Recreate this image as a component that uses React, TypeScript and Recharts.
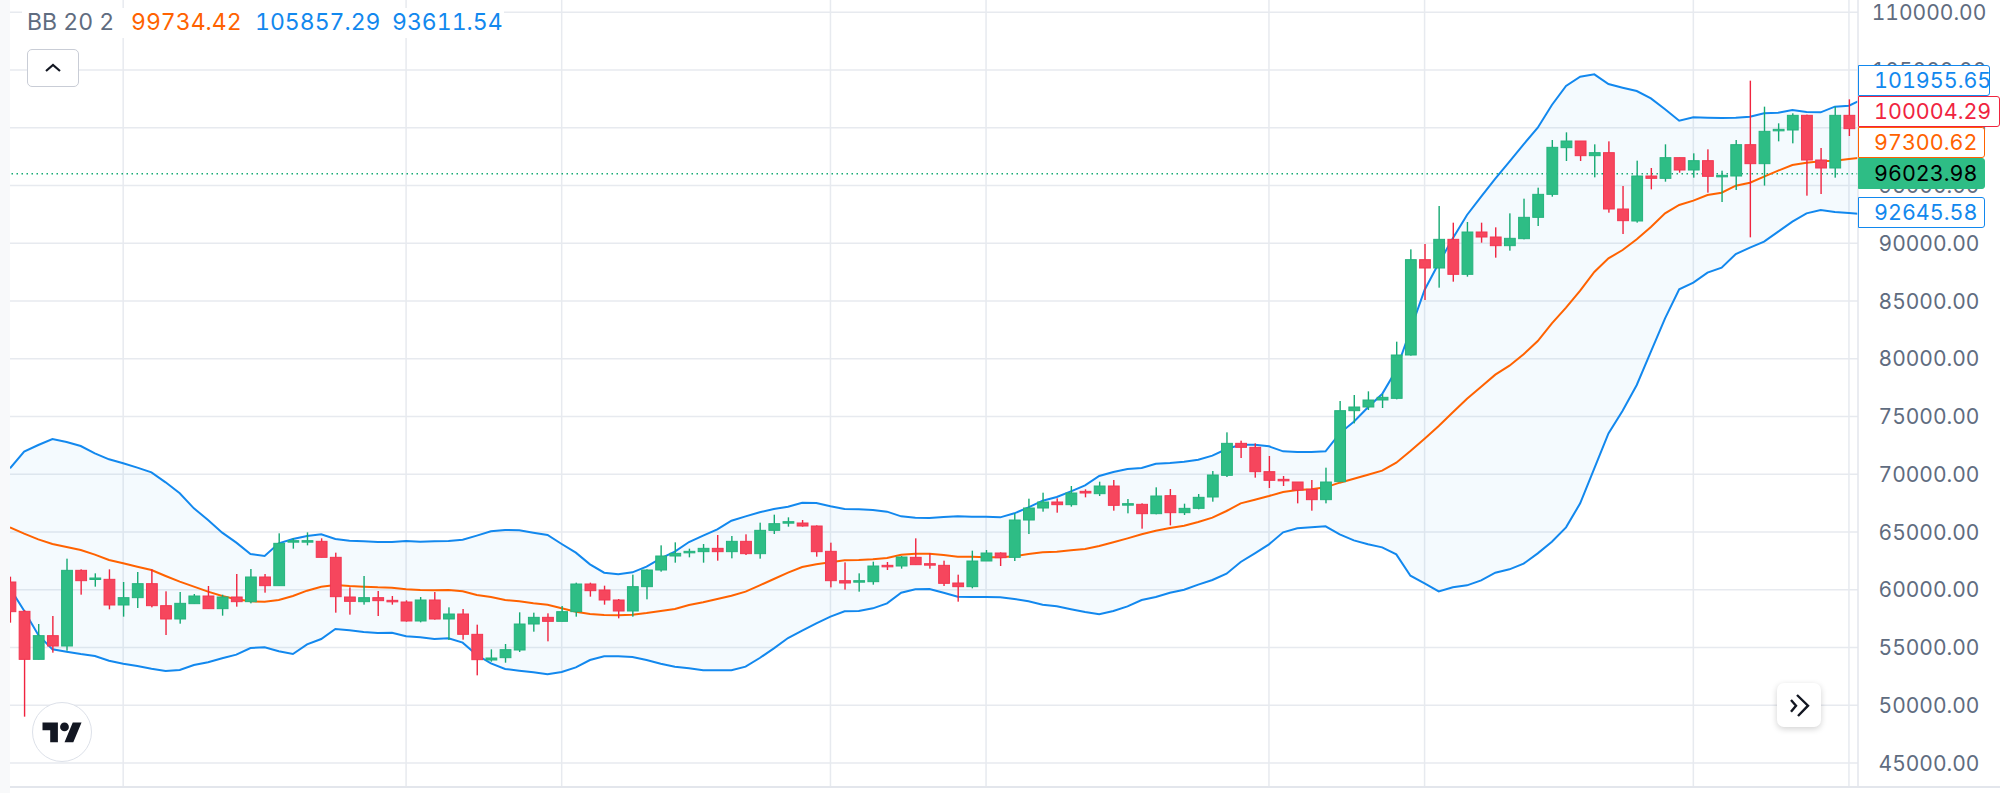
import React from "react";
import { ComposedChart, Area, Bar, Line, XAxis, YAxis, CartesianGrid, ReferenceLine } from "recharts";

const opens = [
  60676, 58136, 53980, 56030, 55135, 61686, 60907, 60907, 58685, 59320, 60532, 58627, 57473, 58800, 59464, 58367, 59377, 58973, 61109, 60359,
  64197, 64197, 64197, 62812, 59377, 58973, 59320, 59089, 58944, 57300, 59118, 57473, 57905, 56145, 53922, 54124, 54788, 57039, 57616, 57270,
  58107, 60503, 59983, 59117, 58165, 60272, 61715, 62927, 63215, 63302, 63590, 63302, 64197, 63129, 65149, 65813, 65784, 65524, 63331, 60791,
  60704, 60704, 62119, 62061, 62811, 62263, 62119, 60589, 60272, 62494, 63186, 62811, 66043, 67082, 67602, 67371, 68525, 68323, 68987, 67400,
  67400, 66592, 68150, 66678, 67053, 68035, 69911, 72681, 72335, 70228, 69564, 69333, 68698, 67804, 69362, 75509, 75827, 76433, 76577, 80329,
  88583, 87861, 90343, 87313, 90978, 90545, 89795, 90401, 92248, 94239, 98280, 98857, 97587, 97847, 92970, 91931, 95827, 95625, 97414, 96346,
  97154, 95798, 95827, 98540, 96895, 99810, 99810, 101079, 97212, 96520, 101079,
];
const highs = [
  61138, 58252, 57040, 57732, 62696, 61773, 61426, 61773, 60676, 61542, 61773, 59868, 59810, 59637, 60330, 59579, 61369, 61801, 61369, 64890,
  64457, 64976, 64457, 63216, 60214, 61196, 59897, 59464, 59089, 59377, 59810, 58483, 58338, 56982, 54846, 55308, 58050, 58020, 57963, 58598,
  60618, 60618, 60358, 59204, 61311, 61772, 63850, 64110, 63562, 63966, 64745, 64658, 64803, 65813, 66505, 66275, 66044, 65582, 64081, 62378,
  61426, 62436, 62407, 62927, 64456, 63158, 62523, 61311, 63388, 63446, 63244, 66621, 67890, 68410, 67919, 68987, 68699, 69362, 69507, 67861,
  67486, 68872, 68727, 67457, 68294, 70286, 73634, 72912, 72681, 71585, 69853, 69333, 69507, 70574, 76346, 76866, 77183, 76952, 81483, 89477,
  89939, 93229, 91786, 91844, 91786, 91382, 92594, 93864, 94816, 98944, 99607, 98857, 98568, 98828, 94961, 97155, 96520, 98569, 97414, 97789,
  98136, 96289, 98944, 104081, 101830, 100387, 101253, 101137, 98251, 101830, 102465,
];
const lows = [
  57155, 49017, 53980, 54558, 54731, 59579, 60272, 58310, 57675, 58425, 58483, 56087, 57068, 58800, 58367, 57761, 58540, 58829, 59753, 60359,
  63562, 63851, 62812, 58021, 57848, 58714, 57732, 58714, 57242, 57184, 57415, 55654, 55683, 52595, 53778, 53691, 54615, 56375, 55539, 57270,
  57674, 59406, 58713, 57530, 57674, 59175, 61570, 62350, 62811, 62350, 62523, 62725, 63013, 62696, 64831, 65466, 65466, 62869, 60214, 60012,
  59839, 60445, 61715, 61830, 62176, 61830, 60329, 58973, 60127, 62494, 62061, 62494, 64831, 66765, 66678, 67198, 68006, 68121, 66851, 66621,
  65293, 66534, 65582, 66476, 66967, 67631, 69766, 71411, 69709, 68814, 68987, 67486, 66851, 67486, 69362, 74412, 75567, 75740, 76490, 80271,
  85091, 86158, 86678, 87111, 90055, 88756, 89362, 90343, 91498, 94037, 97126, 97126, 95711, 92652, 90805, 91787, 94672, 95336, 96116, 95683,
  94384, 93576, 94615, 90517, 95000, 98828, 98655, 94124, 94268, 95683, 99290,
];
const closes = [
  58108, 53980, 56030, 55135, 61686, 60791, 61022, 58685, 59320, 60532, 58627, 57473, 58829, 59464, 58367, 59377, 58973, 61109, 60359, 64024,
  64255, 64255, 62812, 59406, 59002, 59320, 59060, 58973, 57300, 59118, 57473, 57905, 56145, 53952, 54096, 54817, 57039, 57616, 57270, 58107,
  60503, 59925, 59117, 58165, 60272, 61715, 62927, 63158, 63331, 63590, 63302, 64197, 63129, 65149, 65726, 65899, 65524, 63302, 60791, 60589,
  60791, 62061, 62003, 62840, 62176, 62176, 60560, 60272, 62494, 63186, 62782, 66043, 67082, 67602, 67371, 68381, 68381, 68987, 67313, 67458,
  66592, 68121, 66678, 67053, 68006, 69940, 72681, 72335, 70228, 69478, 69449, 68641, 67804, 69333, 75509, 75827, 76433, 76664, 80329, 88583,
  87861, 90343, 87313, 90978, 90545, 89795, 90430, 92248, 94239, 98309, 98857, 97587, 97847, 92970, 91960, 95827, 95625, 97414, 96346, 97154,
  95798, 95885, 98540, 96895, 99694, 99867, 101079, 97212, 96520, 101079, 99925,
];

const upperBand = [
  70517, 71960, 72537, 73057, 72797, 72451, 71816, 71297, 70950, 70575, 70171, 69305, 68353, 67054, 66044, 64947, 64081, 63100, 62927, 64024,
  64399, 64659, 64803, 64399, 64255, 64197, 64139, 64139, 64226, 64168, 64197, 64226, 64341, 64688, 65062, 65178, 65149, 64947, 64745, 63966,
  63215, 62205, 61484, 61340, 61513, 62003, 62725, 63302, 64139, 64687, 65236, 65986, 66361, 66708, 66996, 67198, 67544, 67515, 67227, 66996,
  66967, 66909, 66765, 66361, 66246, 66217, 66303, 66361, 66332, 66332, 66274, 66621, 67140, 67717, 68035, 68525, 69045, 69853, 70199, 70459,
  70546, 70921, 70978, 71094, 71267, 71613, 72191, 72566, 72566, 72421, 71988, 71931, 71931, 71988, 73547, 74556, 75798, 76952, 79030, 82493,
  85956, 88265, 90430, 92450, 94037, 95596, 97068, 98569, 100011, 101974, 103619, 104427, 104629, 103792, 103475, 103186, 102551, 101599, 100618, 100906,
  100877, 100849, 100877, 100964, 101253, 101310, 101541, 101368, 101339, 101830, 101916, 102493,
];
const midBand = [
  65409, 64861, 64370, 63966, 63706, 63447, 63043, 62581, 62292, 62004, 61715, 61196, 60705, 60272, 59839, 59464, 59175, 59002, 58973, 59118,
  59464, 59926, 60272, 60416, 60330, 60272, 60214, 60185, 60041, 59983, 59954, 59983, 59868, 59550, 59377, 59117, 59002, 58829, 58713, 58396,
  58107, 57905, 57819, 57790, 57847, 57992, 58165, 58338, 58684, 58915, 59204, 59493, 59839, 60387, 60936, 61484, 61975, 62205, 62378, 62551,
  62580, 62638, 62754, 63042, 63129, 63129, 63013, 62869, 62869, 62811, 62811, 62898, 63100, 63244, 63302, 63417, 63533, 63792, 64110, 64456,
  64803, 65120, 65351, 65553, 65870, 66245, 66823, 67486, 67804, 68121, 68468, 68641, 68698, 68872, 69276, 69622, 69968, 70315, 71007, 72017,
  73085, 74182, 75365, 76548, 77587, 78626, 79405, 80387, 81541, 83070, 84427, 85899, 87515, 88698, 89420, 90343, 91411, 92594, 93316, 93691,
  94181, 94384, 94989, 95249, 95769, 96289, 96780, 96981, 97097, 97154, 97299, 97443,
];
const lowerBand = [
  60128, 58194, 56087, 54846, 54644, 54442, 54269, 53865, 53605, 53403, 53172, 52970, 53057, 53490, 53721, 54067, 54385, 54962, 55020, 54673,
  54442, 55279, 55741, 56607, 56491, 56347, 56261, 56289, 55972, 55885, 55741, 55799, 55424, 54356, 53634, 53143, 53000, 52855, 52682, 52883,
  53288, 53923, 54240, 54240, 54182, 53923, 53605, 53345, 53201, 53028, 53028, 53028, 53345, 54096, 54933, 55827, 56461, 57097, 57674, 58136,
  58165, 58396, 58829, 59752, 60041, 60070, 59752, 59406, 59377, 59377, 59348, 59204, 59002, 58713, 58568, 58309, 58078, 57876, 58165, 58568,
  59117, 59377, 59752, 60012, 60444, 60849, 61397, 62407, 63157, 63937, 64976, 65322, 65409, 65495, 64802, 64283, 63937, 63677, 63071, 61223,
  60559, 59866, 60213, 60386, 60819, 61482, 61772, 62263, 63157, 64167, 65408, 67486, 70516, 73546, 75509, 77732, 80617, 83503, 86014, 86591,
  87457, 87890, 89073, 89621, 90141, 91007, 91872, 92594, 92883, 92709, 92623, 92537,
];

const priceTicks = [110000, 105000, 100000, 95000, 90000, 85000, 80000, 75000, 70000, 65000, 60000, 55000, 50000, 45000];
const timeGridIndexes = [8, 28, 39, 58, 69, 89, 100, 119, 130];
const lastPrice = 96023.98;

const FONT = "Inter, 'Noto Sans', sans-serif";
const GREEN = "#2ebd85";
const GREEN_DARK = "#14a972";
const RED = "#f6465d";
const RED_DARK = "#f0243f";
const BLUE = "#1288ee";
const ORANGE = "#ff6200";
const GRID = "#e7eaef";

const rows = upperBand.map((u, i) => ({
  index: i,
  band: [lowerBand[i], u],
  upper: u,
  mid: midBand[i],
  lower: lowerBand[i],
  range: i < opens.length ? [lows[i], highs[i]] : null,
  open: opens[i],
  close: closes[i],
  high: highs[i],
  low: lows[i],
}));

function Candle(props: any) {
  const { x, y, width, height, payload } = props;
  if (payload.open == null || !height) return null;
  const up = payload.close >= payload.open;
  const perUnit = height / (payload.high - payload.low);
  const cx = x + width / 2;
  const top = y + (payload.high - Math.max(payload.open, payload.close)) * perUnit;
  const bodyH = Math.max(Math.abs(payload.open - payload.close) * perUnit, 1.5);
  return (
    <g>
      <rect x={cx - 0.7} y={y} width={1.4} height={height} fill={up ? GREEN_DARK : RED_DARK} />
      <rect x={cx - 5.4} y={top} width={10.8} height={bodyH} fill={up ? GREEN : RED} stroke={up ? "#25b27d" : "#f23651"} strokeWidth={1} />
    </g>
  );
}

function PriceTick(props: any) {
  const { x, y, payload } = props;
  return (
    <text x={x} y={y} dy="0.36em" textAnchor="middle" fill="#5f6c80" fontSize={21} fontFamily={FONT} style={{ fontFeatureSettings: "'tnum'" }}>
      {payload.value.toFixed(2)}
    </text>
  );
}

const boxStyle = (top: number, width: number, color: string): React.CSSProperties => ({
  position: "absolute",
  left: 1858,
  top,
  width,
  height: 31,
  boxSizing: "border-box",
  background: "#fff",
  border: `1.5px solid ${color}`,
  borderRadius: "0 3px 3px 0",
  color,
  fontSize: 21.5,
  lineHeight: "29px",
  paddingLeft: 15,
  whiteSpace: "nowrap",
});

const headStyle = (left: number, color: string): React.CSSProperties => ({
  position: "absolute",
  left,
  top: 0,
  color,
  whiteSpace: "nowrap",
});

export default function App() {
  return (
    <div style={{ position: "fixed", left: 0, top: 0, width: 2000, height: 793, background: "#fff", overflow: "hidden", fontFamily: FONT, fontFeatureSettings: "'tnum'" }}>
      <ComposedChart
        width={2000}
        height={793}
        data={rows}
        margin={{ top: 0, right: 0, bottom: 7, left: 10 }}
        barSize={11}
      >
        <CartesianGrid stroke={GRID} strokeWidth={1.5} verticalValues={timeGridIndexes} horizontalValues={priceTicks} />
        <XAxis hide type="number" dataKey="index" domain={[0, 130.64]} allowDataOverflow ticks={timeGridIndexes} />
        <YAxis
          orientation="right"
          width={142}
          domain={[43014, 111065]}
          allowDataOverflow
          ticks={priceTicks}
          interval={0}
          tick={<PriceTick />}
          tickLine={false}
          tickMargin={65}
          axisLine={{ stroke: "#e3e6ec", strokeWidth: 1.5 }}
        />
        <Area dataKey="band" stroke="none" fill="#2196f3" fillOpacity={0.05} isAnimationActive={false} />
        <ReferenceLine y={lastPrice} stroke={GREEN_DARK} strokeDasharray="1.5 3.5" strokeWidth={1.3} />
        <Line dataKey="upper" stroke={BLUE} strokeWidth={2} dot={false} isAnimationActive={false} />
        <Line dataKey="lower" stroke={BLUE} strokeWidth={2} dot={false} isAnimationActive={false} />
        <Line dataKey="mid" stroke={ORANGE} strokeWidth={2} dot={false} isAnimationActive={false} />
        <Bar dataKey="range" shape={Candle} isAnimationActive={false} zIndex={500} />
      </ComposedChart>

      <div style={{ position: "absolute", left: 0, top: 0, width: 10, height: 793, background: "#f8f9fa" }} />
      <div style={{ position: "absolute", left: 10, top: 786, width: 1990, height: 1.5, background: "#e3e6ec" }} />

      <div style={{ position: "absolute", left: 22, top: 8, width: 482, height: 30, background: "#fff", fontSize: 23, lineHeight: "29px" }}>
        <span style={headStyle(5, "#5f6c80")}>BB 20 2</span>
        <span style={headStyle(109, ORANGE)}>99734.42</span>
        <span style={headStyle(233, BLUE)}>105857.29</span>
        <span style={headStyle(370, BLUE)}>93611.54</span>
      </div>

      <div style={{ position: "absolute", left: 27, top: 49, width: 52, height: 38, boxSizing: "border-box", background: "#fff", border: "1.5px solid #c9cdd6", borderRadius: 5 }}>
        <svg width={50} height={36} style={{ display: "block" }}>
          <polyline points="18,21 25,15 32,21" fill="none" stroke="#131722" strokeWidth={2.2} />
        </svg>
      </div>

      <div style={{ position: "absolute", left: 32, top: 702, width: 60, height: 60, boxSizing: "border-box", background: "#fff", border: "1.5px solid #dde1e9", borderRadius: "50%" }}>
        <svg width={57} height={57} style={{ display: "block" }}>
          <g transform="translate(9.5 15.1) scale(1.1)" fill="#131722">
            <path d="M14 22H7V11H0V4h14v18zM28 22h-8l7.5-18h8L28 22z" />
            <circle cx={20} cy={8} r={4} />
          </g>
        </svg>
      </div>

      <div style={{ position: "absolute", left: 1777, top: 683, width: 44, height: 44, background: "#fff", borderRadius: 7, boxShadow: "0 2px 6px rgba(0,0,0,0.18)" }}>
        <svg width={44} height={44} style={{ display: "block" }}>
          <polyline points="14,17 19,22.7 14,28.7" fill="none" stroke="#131722" strokeWidth={2.4} />
          <polyline points="20,12 31,22.7 21,33" fill="none" stroke="#131722" strokeWidth={2.4} />
        </svg>
      </div>

      <div style={boxStyle(65, 132, BLUE)}>101955.65</div>
      <div style={boxStyle(96, 142, RED_DARK)}>100004.29</div>
      <div style={boxStyle(127, 127, ORANGE)}>97300.62</div>
      <div style={{ ...boxStyle(158, 127, GREEN), background: GREEN, color: "#000" }}>96023.98</div>
      <div style={boxStyle(197, 127, BLUE)}>92645.58</div>
    </div>
  );
}
